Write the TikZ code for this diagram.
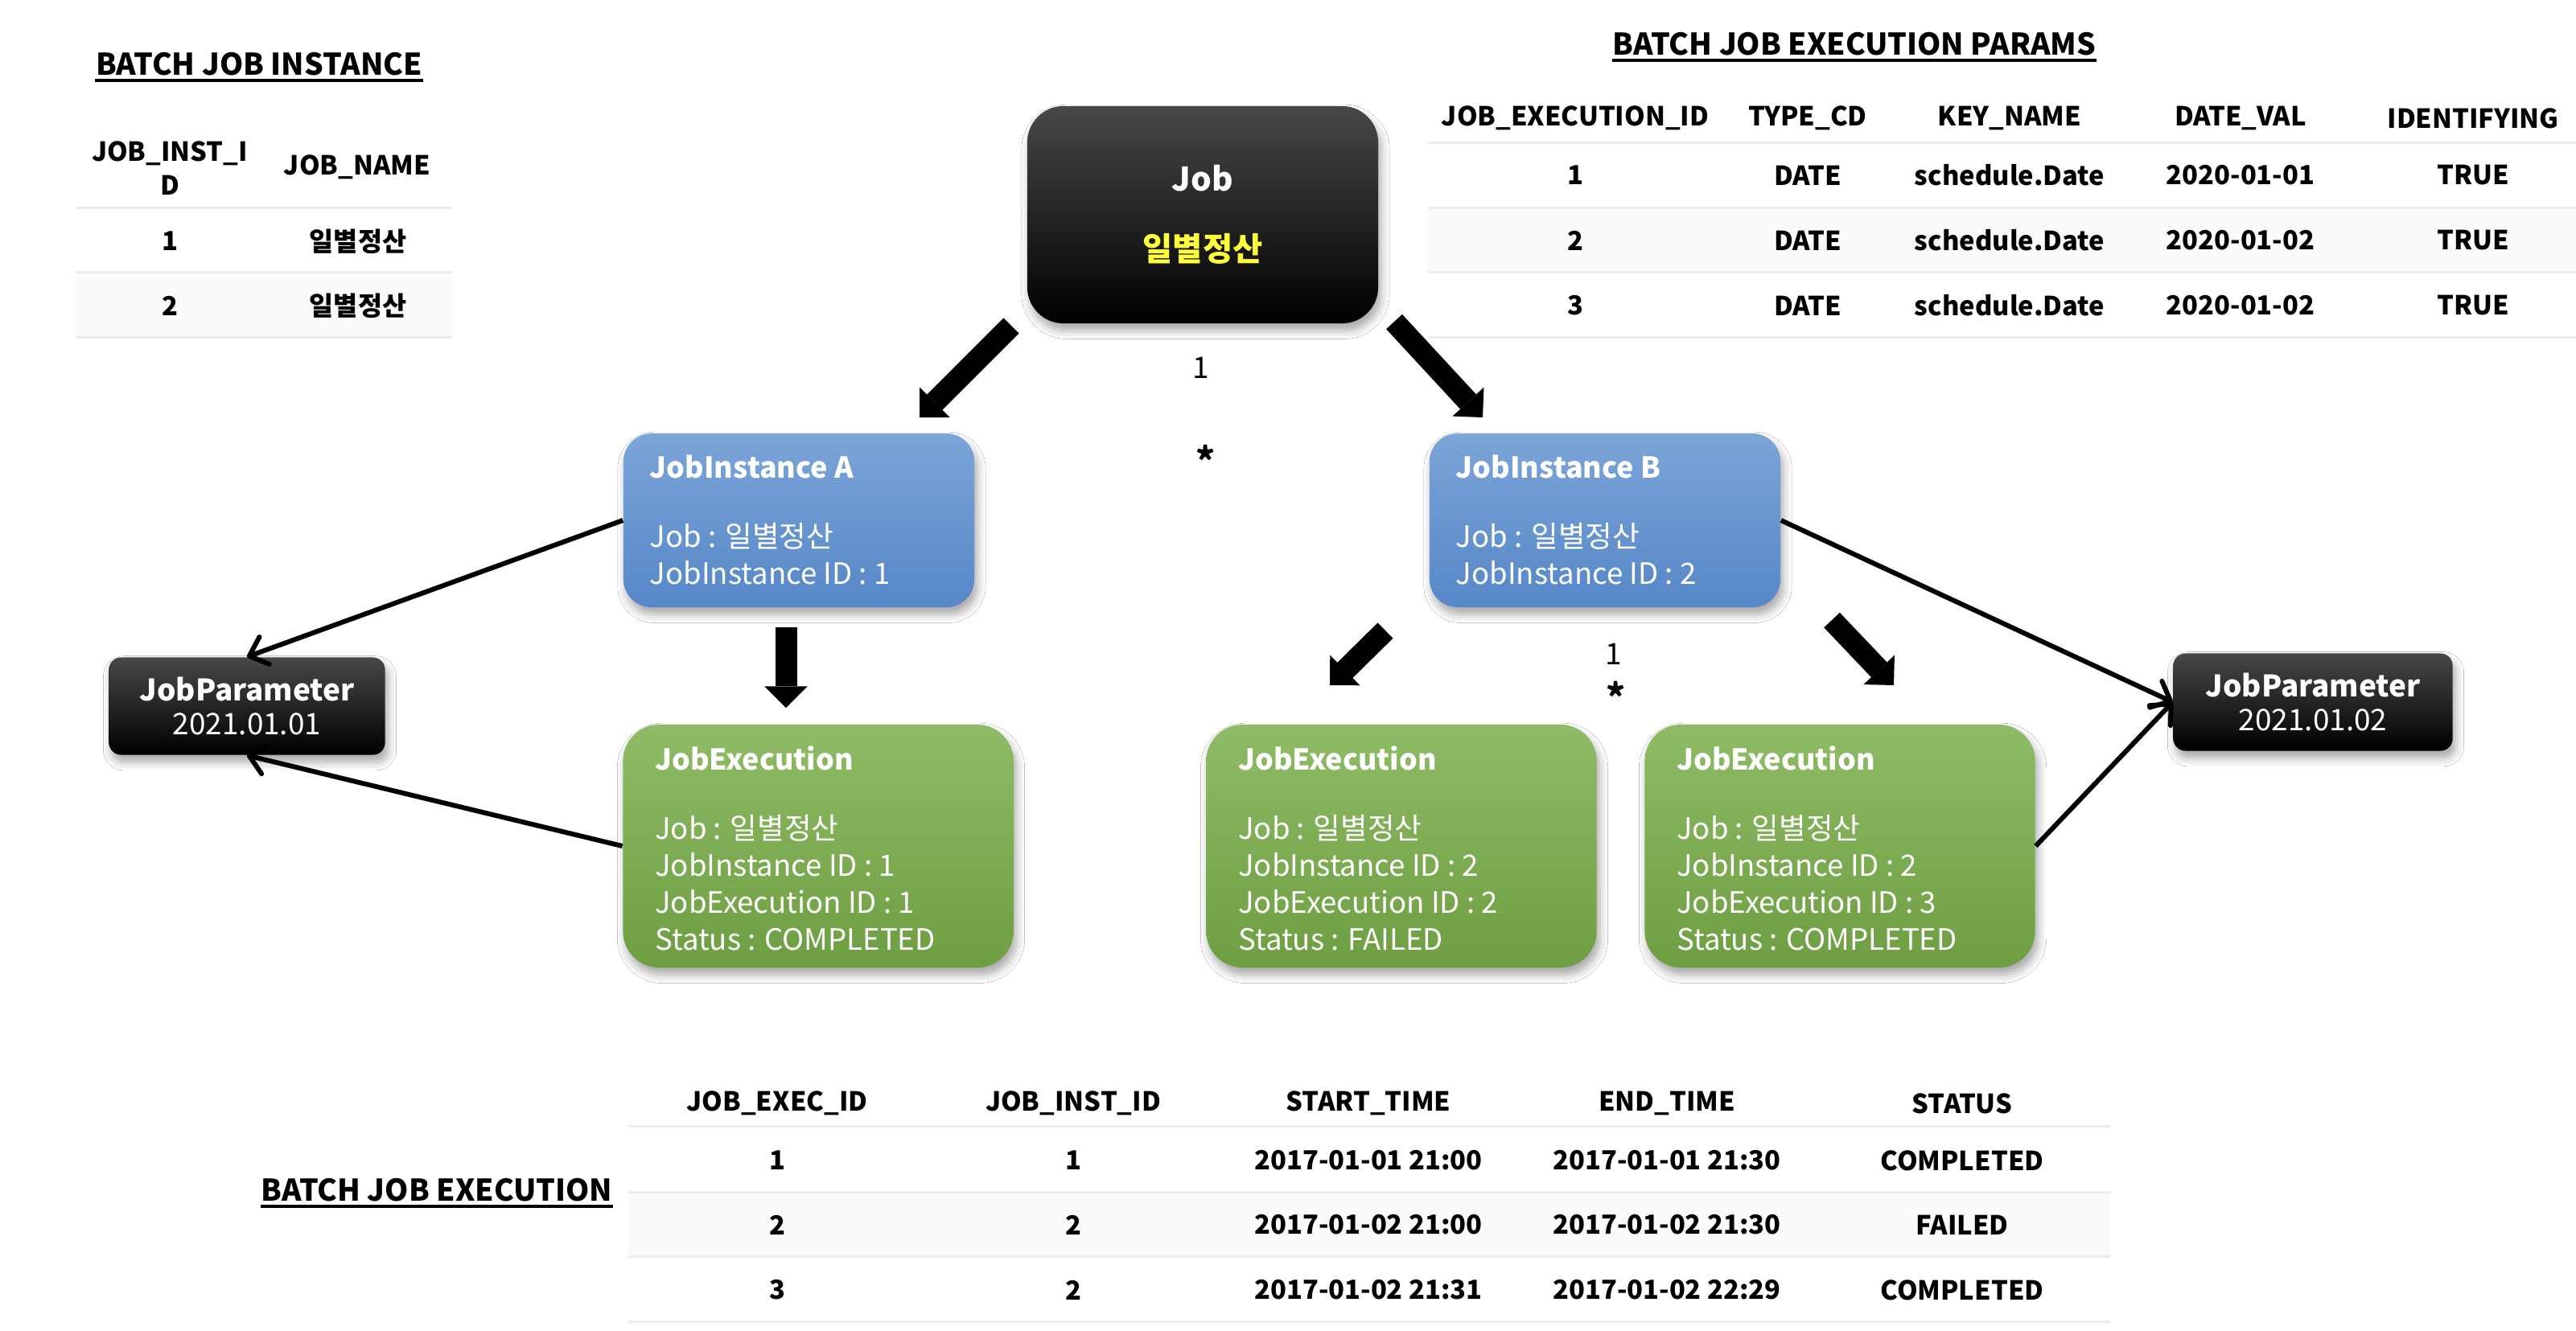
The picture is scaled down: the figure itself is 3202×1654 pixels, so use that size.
\documentclass[tikz,border=0pt]{standalone}
\usepackage{fontspec}
\setmainfont{Noto Sans CJK KR}
\newfontfamily\kr{Noto Sans CJK KR}
\usetikzlibrary{arrows.meta,shadows.blur}
\tikzset{>={Straight Barb[length=0.2cm,width=0.36cm,round]}}

\definecolor{ruleGray}{RGB}{236,236,236}
\definecolor{rowGray}{RGB}{250,250,250}
\definecolor{instTop}{RGB}{124,165,216}
\definecolor{instBot}{RGB}{86,135,200}
\definecolor{execTop}{RGB}{143,187,102}
\definecolor{execBot}{RGB}{110,158,66}
\definecolor{jobTop}{RGB}{72,72,72}
\definecolor{jobYellow}{RGB}{255,255,60}

\newcommand{\boxhead}[1]{{\fontsize{10.2}{13.1}\selectfont\bfseries #1}}
\newcommand{\dailyjob}{{\kr 일별정산}}

\begin{document}
\begin{tikzpicture}[x=0.01cm,y=-0.01cm,
  every node/.style={inner sep=0pt},
  tabtitle/.style={font=\fontsize{10.6}{12}\selectfont\bfseries},
  tabcell/.style={font=\fontsize{9.3}{11.9}\selectfont\bfseries, align=center},
  tabrule/.style={draw=ruleGray, line width=0.03cm},
  boxshadow/.style={blur shadow={shadow xshift=1pt, shadow yshift=-2.5pt, shadow blur radius=3pt, shadow opacity=35}},
  jobbox/.style={boxshadow, rounded corners=0.45cm, top color=jobTop, middle color=black, bottom color=black,
    text=white, align=center, font=\fontsize{11.5}{24.7}\selectfont\bfseries},
  parambox/.style={boxshadow, rounded corners=0.15cm, top color=jobTop, middle color=black, bottom color=black,
    text=white, align=center, minimum height=1.21cm, font=\fontsize{10.5}{12.2}\selectfont},
  instbox/.style={boxshadow, rounded corners=0.35cm, top color=instTop, bottom color=instBot,
    minimum width=4.36cm, minimum height=2.16cm},
  execbox/.style={boxshadow, rounded corners=0.45cm, top color=execTop, bottom color=execBot,
    minimum width=4.85cm, minimum height=3.02cm},
  boxtext/.style={text=white, align=left, anchor=north west, font=\fontsize{10.4}{13.1}\selectfont},
  mult/.style={font=\fontsize{10.5}{12}\selectfont},
  bigarrow/.style={line width=0.27cm, -{Triangle[width=0.53cm,length=0.265cm,line width=0pt]}},
  thinarrow/.style={line width=0.06cm, ->}]

\useasboundingbox (0,0) rectangle (3202,1654);
\fill[white] (0,0) rectangle (3202,1654);

% BATCH JOB INSTANCE
\fill[rowGray] (94,338) rectangle (562,419);
\foreach \y in {258,338,419} \draw[tabrule] (94,\y) -- (562,\y);
\node[tabtitle] (instTitle) at (322,80) {BATCH JOB INSTANCE};
\draw[line width=0.04cm] ([shift={(0,6)}]instTitle.base west) -- ([shift={(0,6)}]instTitle.base east);
\node[tabcell] (instH1) at (211,209) {JOB\_INST\_I\\D};
\node[tabcell] (instH2) at (444,208) {JOB\_NAME};
\foreach \i/\y in {1/300,2/380}{
  \node[tabcell] (instId\i) at (211,\y) {\i};
  \node[tabcell] (instName\i) at (445,\y) {\kr\bfseries 일별정산};
}

% BATCH JOB EXECUTION PARAMS
\fill[rowGray] (1775,258) rectangle (3202,338);
\foreach \y in {177,258,338,419} \draw[tabrule] (1775,\y) -- (3202,\y);
\node[tabtitle] (parTitle) at (2305,55) {BATCH JOB EXECUTION PARAMS};
\draw[line width=0.04cm] ([shift={(0,6)}]parTitle.base west) -- ([shift={(0,6)}]parTitle.base east);
\node[tabcell] (parH1) at (1958,147) {JOB\_EXECUTION\_ID};
\node[tabcell] (parH2) at (2247,147) {TYPE\_CD};
\node[tabcell] (parH3) at (2498,147) {KEY\_NAME};
\node[tabcell] (parH4) at (2785,147) {DATE\_VAL};
\node[tabcell] (parH5) at (3074,147) {IDENTIFYING};
\foreach \i/\y/\d in {1/218/2020-01-01,2/299/2020-01-02,3/380/2020-01-02}{
  \node[tabcell] (parId\i) at (1958,\y) {\i};
  \node[tabcell] (parType\i) at (2247,\y) {DATE};
  \node[tabcell] (parKey\i) at (2498,\y) {schedule.Date};
  \node[tabcell] (parVal\i) at (2785,\y) {\d};
  \node[tabcell] (parIdf\i) at (3074,\y) {TRUE};
}

% BATCH JOB EXECUTION
\fill[rowGray] (781,1482) rectangle (2623,1562);
\foreach \y in {1400,1482,1562,1643} \draw[tabrule] (781,\y) -- (2623,\y);
\node[tabtitle] (exeTitle) at (543,1480) {BATCH JOB EXECUTION};
\draw[line width=0.04cm] ([shift={(0,6)}]exeTitle.base west) -- ([shift={(0,6)}]exeTitle.base east);
\node[tabcell] (exeH1) at (966,1372) {JOB\_EXEC\_ID};
\node[tabcell] (exeH2) at (1334,1372) {JOB\_INST\_ID};
\node[tabcell] (exeH3) at (1701,1372) {START\_TIME};
\node[tabcell] (exeH4) at (2072,1372) {END\_TIME};
\node[tabcell] (exeH5) at (2439,1372) {STATUS};
\foreach \i/\n/\s/\e/\st/\y in {1/1/2017-01-01 21:00/2017-01-01 21:30/COMPLETED/1443,
    2/2/2017-01-02 21:00/2017-01-02 21:30/FAILED/1523,
    3/2/2017-01-02 21:31/2017-01-02 22:29/COMPLETED/1604}{
  \node[tabcell] (exeId\i) at (966,\y) {\i};
  \node[tabcell] (exeInst\i) at (1334,\y) {\n};
  \node[tabcell] (exeStart\i) at (1701,\y) {\s};
  \node[tabcell] (exeEnd\i) at (2072,\y) {\e};
  \node[tabcell] (exeSt\i) at (2439,\y) {\st};
}

% boxes
\node[jobbox, minimum width=4.36cm, minimum height=2.70cm] (job) at (1495,267) {Job\\{\kr\color{jobYellow}일별정산}};

\node[instbox] (instA) at (993,647) {};
\node[boxtext] (instAtxt) at ([shift={(33,27)}]instA.north west) {\boxhead{JobInstance A}\\[11.3pt]Job : \dailyjob\\JobInstance ID : 1};
\node[instbox] (instB) at (1995,647) {};
\node[boxtext] (instBtxt) at ([shift={(33,27)}]instB.north west) {\boxhead{JobInstance B}\\[11.3pt]Job : \dailyjob\\JobInstance ID : 2};

\node[execbox] (execA) at (1017,1052) {};
\node[boxtext] (execAtxt) at ([shift={(40,27)}]execA.north west) {\boxhead{JobExecution}\\[11.3pt]Job : \dailyjob\\JobInstance ID : 1\\JobExecution ID : 1\\Status : COMPLETED};
\node[execbox] (execB) at (1742,1052) {};
\node[boxtext] (execBtxt) at ([shift={(40,27)}]execB.north west) {\boxhead{JobExecution}\\[11.3pt]Job : \dailyjob\\JobInstance ID : 2\\JobExecution ID : 2\\Status : FAILED};
\node[execbox] (execC) at (2287,1052) {};
\node[boxtext] (execCtxt) at ([shift={(40,27)}]execC.north west) {\boxhead{JobExecution}\\[11.3pt]Job : \dailyjob\\JobInstance ID : 2\\JobExecution ID : 3\\Status : COMPLETED};

\node[parambox, minimum width=3.43cm] (paramA) at (307,878) {\textbf{JobParameter}\\2021.01.01};
\node[parambox, minimum width=3.47cm] (paramB) at (2875,873) {\textbf{JobParameter}\\2021.01.02};

% multiplicities
\node[mult] (oneTop) at (1493,457) {1};
\node[mult, font=\fontsize{13}{14}\selectfont\bfseries] (manyTop) at (1499,572) {*};
\node[mult] (oneB) at (2006,813) {1};
\node[mult, font=\fontsize{13}{14}\selectfont\bfseries] (manyB) at (2009,866) {*};

% block arrows
\coordinate (jobL) at (1257,405); \coordinate (instAin) at (1143,519);
\coordinate (jobR) at (1733,400); \coordinate (instBin) at (1843,519);
\coordinate (instAout) at (977,780); \coordinate (execAin) at (977,880);
\coordinate (instBoutL) at (1722,784); \coordinate (execBin) at (1653,852);
\coordinate (instBoutR) at (2277,771); \coordinate (execCin) at (2354,852);
\draw[bigarrow] (jobL) -- (instAin);
\draw[bigarrow] (jobR) -- (instBin);
\draw[bigarrow] (instAout) -- (execAin);
\draw[bigarrow] (instBoutL) -- (execBin);
\draw[bigarrow] (instBoutR) -- (execCin);

% parameters
\draw[thinarrow] (instA.west) -- (paramA.north);
\draw[thinarrow] (execA.west) -- (paramA.south);
\draw[thinarrow] (instB.east) -- (paramB.west);
\draw[thinarrow] (execC.east) -- (paramB.west);
\end{tikzpicture}
\end{document}
